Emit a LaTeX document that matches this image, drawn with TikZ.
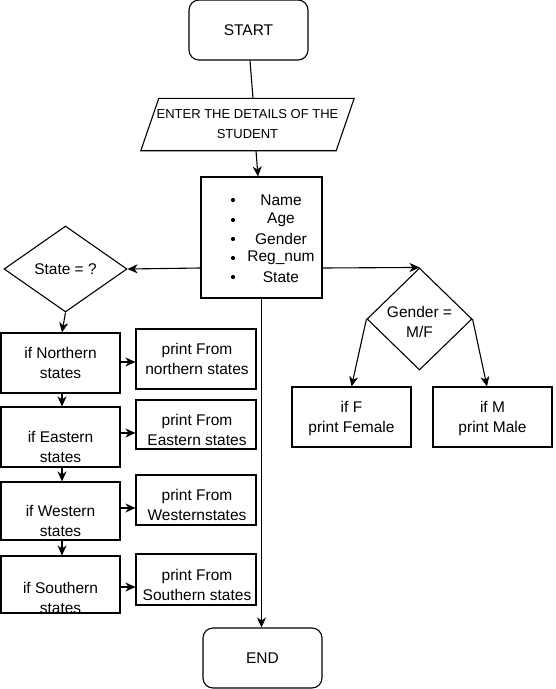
\documentclass[tikz,border=0pt]{standalone}
\usepackage{fontspec}
\setmainfont{Liberation Sans}
\usetikzlibrary{arrows.meta,shapes.geometric,calc}
\begin{document}
\begin{tikzpicture}[x=1pt,y=-1pt,
  box/.style={draw, line width=1.1pt, inner sep=0pt},
  txt/.style={align=center, inner sep=0pt, font=\fontsize{15.5}{20}\selectfont},
  small/.style={align=center, inner sep=0pt, font=\fontsize{13}{20}\selectfont},
  arr/.style={-{Stealth[length=10pt,width=9pt,inset=3pt]}, line width=1.1pt},
  ln/.style={line width=1.1pt}]
\useasboundingbox (0,0) rectangle (555,689);
% terminals
\node[box, rounded corners=10pt, minimum width=119pt, minimum height=60pt, txt] (start) at (248.5,30) {START};
\node[box, rounded corners=10pt, minimum width=119pt, minimum height=60pt, txt] (endn) at (262.5,658) {END};
% input parallelogram
\node[minimum width=213pt, minimum height=52pt, small] (par) at (247.5,124.5) {ENTER THE DETAILS OF THE\\STUDENT};
\draw[ln] ($(par.north west)+(18,0)$) -- (par.north east) -- ($(par.south east)+(-18,0)$) -- (par.south west) -- cycle;
% data box
\node[box, minimum width=121pt, minimum height=121pt] (data) at (261.5,237.5) {};
\foreach \t/\yy [count=\i] in {Name/200,Age/220,Gender/239,Reg\_num/258,State/277}{
  \node[txt] (item\i) at (281,\yy) {\t};
  \fill (233,\yy) circle (2.1pt);
}
% state decision
\node[box, diamond, minimum width=123pt, minimum height=86pt, txt] (state) at (65.5,269) {State = ?};
% left condition boxes
\node[box, minimum width=119pt, minimum height=60pt] (north) at (60.5,363) {};
\node[txt] (northt) at (60.5,363) {if Northern\\states};
\node[box, minimum width=119pt, minimum height=60pt] (east) at (60.5,437) {};
\node[txt] (eastt) at (60.5,447) {if Eastern\\states};
\node[box, minimum width=119pt, minimum height=58pt] (west) at (60.5,511) {};
\node[txt] (westt) at (60.5,521) {if Western\\states};
\node[box, minimum width=119pt, minimum height=57pt] (south) at (60.5,584.5) {};
\node[txt] (southt) at (60.5,597.5) {if Southern\\states};
% print boxes
\node[box, minimum width=120pt, minimum height=60pt] (pn) at (196,359) {};
\node[txt] (pnt) at (197,359) {print From\\northern states};
\node[box, minimum width=120pt, minimum height=49pt] (pe) at (196,424.5) {};
\node[txt] (pet) at (197,430) {print From\\Eastern states};
\node[box, minimum width=120pt, minimum height=50pt] (pw) at (196,500) {};
\node[txt] (pwt) at (197,505) {print From\\Westernstates};
\node[box, minimum width=120pt, minimum height=51pt] (ps) at (196,579.5) {};
\node[txt] (pst) at (197,584.5) {print From\\Southern states};
% gender decision
\node[box, diamond, minimum width=105pt, minimum height=102pt] (gender) at (419.5,319) {};
\node[txt] (gendert) at (419.5,322) {Gender =\\M/F};
\node[box, minimum width=119pt, minimum height=60pt] (iff) at (351.5,417) {};
\node[txt] (ifft) at (351.5,418) {if F\\print Female};
\node[box, minimum width=119pt, minimum height=60pt] (ifm) at (492.5,417) {};
\node[txt] (ifmt) at (492.5,418) {if M\\print Male};
% connector end points
\coordinate (an) at ($(north.east)+(0,-1)$);
\coordinate (ae) at ($(east.east)+(0,-4)$);
\coordinate (aw) at ($(west.east)+(0,-3)$);
\coordinate (as) at ($(south.east)+(0,2.5)$);
% connectors
\draw[ln] ($(start.south)+(1.5,0)$) -- ($(par.north)+(5.5,0)$);
\draw[arr] ($(par.south)+(8.5,0)$) -- ($(data.north)+(-3.5,0)$);
\draw[arr] ($(data.west)+(0,30.5)$) -- (state.east);
\draw[arr] (state.south) -- ($(north.north)+(1.5,0)$);
\draw[arr] ($(north.south)+(1.5,0)$) -- ($(east.north)+(1.5,0)$);
\draw[arr] ($(east.south)+(1.5,0)$) -- ($(west.north)+(1.5,0)$);
\draw[arr] ($(west.south)+(1.5,0)$) -- ($(south.north)+(1.5,0)$);
\draw[arr] (an) -- (an -| pn.west);
\draw[arr] (ae) -- (ae -| pe.west);
\draw[arr] (aw) -- (aw -| pw.west);
\draw[arr] (as) -- (as -| ps.west);
\draw[arr] (data.south) -- (data.south |- endn.north);
\draw[arr] ($(data.east)+(0,30.5)$) -- (gender.north);
\draw[arr] (gender.west) -- (iff.north);
\draw[arr] (gender.east) -- ($(ifm.north)+(-5.5,0)$);
\end{tikzpicture}
\end{document}
